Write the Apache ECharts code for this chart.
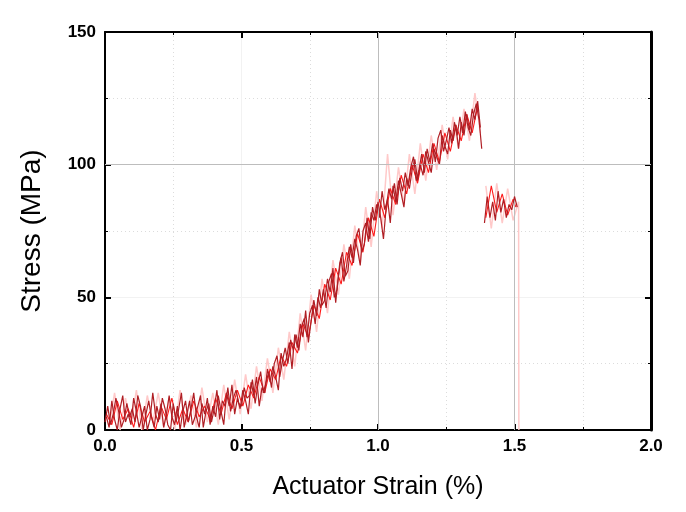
<!DOCTYPE html>
<html><head><meta charset="utf-8">
<script src="https://cdn.jsdelivr.net/npm/echarts@6/dist/echarts.min.js"></script>
<style>html,body{margin:0;padding:0;background:#fff}#c{width:686px;height:512px}</style>
</head><body><div id="c"></div>
<script>
// Dark red trace (part A)
var strainDark = [0.00,0.01,0.02,0.03,0.04,0.05,0.06,0.07,0.08,0.09,
0.10,0.11,0.12,0.13,0.14,0.15,0.16,0.17,0.18,0.19,
0.20,0.21,0.22,0.23,0.24,0.25,0.26,0.27,0.28,0.29,
0.30,0.31,0.32,0.33,0.34,0.35,0.36,0.37,0.38,0.39,
0.40,0.41,0.42,0.43,0.44,0.45,0.46,0.47,0.48,0.49,
0.50,0.51,0.52,0.53,0.54,0.55,0.56,0.57,0.58,0.59,
0.60,0.61,0.62,0.63,0.64,0.65,0.66,0.67,0.68,0.69,
0.70,0.71,0.72,0.73,0.74,0.75,0.76,0.77,0.78,0.79,
0.80,0.81,0.82,0.83,0.84,0.85,0.86,0.87,0.88,0.89,
0.90,0.91,0.92,0.93,0.94,0.95,0.96,0.97,0.98,0.99,
1.00,1.01,1.02,1.03,1.04,1.05,1.06,1.07,1.08,1.09,
1.10,1.11,1.12,1.13,1.14,1.15,1.16,1.17,1.18,1.19,
1.20,1.21,1.22,1.23,1.24,1.25,1.26,1.27,1.28,1.29,
1.30,1.31,1.32,1.33,1.34,1.35,1.36,1.37,1.38,1.385,
1.39,1.40,1.41,1.42,1.43,1.44,1.45,1.46,1.47,1.48,1.49,1.50,1.51];
var stressDark = [3,9,2,6,12,7,1,4,10,5,
8,3,13,9,0,6,11,5,1,9,
4,12,8,2,0,10,3,8,14,1,
6,11,2,5,9,13,1,7,10,3,
8,15,4,11,9,16,7,12,15,10,
9,16,12,13,19,10,17,22,14,18,
22,16,25,28,20,26,31,25,34,30,
36,30,39,42,35,44,47,40,50,46,
53,46,56,59,50,53,63,67,58,60,
70,63,73,76,67,70,80,72,84,79,
86,80,72,84,91,87,93,85,95,90,
97,92,99,103,94,98,104,97,106,101,
108,101,110,113,105,109,114,108,116,111,
118,112,120,114,111,119,123,117,106,null,
78,88,80,86,79,90,82,87,80,85,83,88,84];

// Dark red trace (part B, interleaved samples)
var strainDarkB = [0.005,0.015,0.025,0.035,0.045,0.055,0.065,0.075,0.085,0.095,
0.105,0.115,0.125,0.135,0.145,0.155,0.165,0.175,0.185,0.195,
0.205,0.215,0.225,0.235,0.245,0.255,0.265,0.275,0.285,0.295,
0.305,0.315,0.325,0.335,0.345,0.355,0.365,0.375,0.385,0.395,
0.405,0.415,0.425,0.435,0.445,0.455,0.465,0.475,0.485,0.495,
0.505,0.515,0.525,0.535,0.545,0.555,0.565,0.575,0.585,0.595,
0.605,0.615,0.625,0.635,0.645,0.655,0.665,0.675,0.685,0.695,
0.705,0.715,0.725,0.735,0.745,0.755,0.765,0.775,0.785,0.795,
0.805,0.815,0.825,0.835,0.845,0.855,0.865,0.875,0.885,0.895,
0.905,0.915,0.925,0.935,0.945,0.955,0.965,0.975,0.985,0.995,
1.005,1.015,1.025,1.035,1.045,1.055,1.065,1.075,1.085,1.095,
1.105,1.115,1.125,1.135,1.145,1.155,1.165,1.175,1.185,1.195,
1.205,1.215,1.225,1.235,1.245,1.255,1.265,1.275,1.285,1.295,
1.305,1.315,1.325,1.335,1.345,1.355,1.365,1.375];
var stressDarkB = [5,1,11,4,0,8,13,3,6,2,
12,7,1,5,9,0,4,14,6,3,
10,1,6,13,5,2,9,0,7,11,
3,8,14,5,1,10,6,12,2,9,
5,13,7,2,14,9,17,6,12,8,
15,11,6,18,13,20,9,16,14,23,
18,24,20,15,29,24,27,33,23,36,
31,40,35,45,33,41,49,43,53,47,
49,57,52,61,48,58,65,56,62,69,
65,72,68,62,75,78,71,82,79,85,
80,90,83,87,78,92,86,94,89,84,
95,91,98,102,94,100,96,105,101,97,
106,103,100,111,107,104,113,109,115,106,
116,111,119,113,121,117,124,114];

// Red trace
var strainRed = [0.005,0.025,0.045,0.065,0.085,0.105,0.125,0.145,0.165,0.185,
0.205,0.225,0.245,0.265,0.285,0.305,0.325,0.345,0.365,0.385,
0.405,0.425,0.445,0.465,0.485,0.505,0.525,0.545,0.565,0.585,
0.605,0.625,0.645,0.665,0.685,0.705,0.725,0.745,0.765,0.785,
0.805,0.825,0.845,0.865,0.885,0.905,0.925,0.945,0.965,0.985,
1.005,1.025,1.045,1.065,1.085,1.105,1.125,1.145,1.165,1.185,
1.205,1.225,1.245,1.265,1.285,1.305,1.325,1.345,1.365,1.38,
1.395,1.415,1.435,1.455,1.475,1.495,1.505];
var stressRed = [6,2,11,4,8,1,10,3,7,0,
9,4,12,2,8,3,11,5,9,4,
12,6,14,8,15,9,17,12,20,14,
23,19,28,24,33,29,40,35,47,42,
55,49,61,55,67,62,74,67,80,73,
87,80,91,85,96,89,100,93,104,97,
108,101,112,105,115,109,119,112,122,null,
80,92,82,89,81,87,84];

// Pink trace
var strainPink = [0.015,0.035,0.055,0.075,0.095,0.115,0.135,0.155,0.175,0.195,
0.215,0.235,0.255,0.275,0.295,0.315,0.335,0.355,0.375,0.395,
0.415,0.435,0.455,0.475,0.495,0.515,0.535,0.555,0.575,0.595,
0.615,0.635,0.655,0.675,0.695,0.715,0.735,0.755,0.775,0.795,
0.815,0.835,0.855,0.875,0.895,0.915,0.935,0.955,0.975,0.995,
1.015,1.035,1.055,1.075,1.095,1.115,1.135,1.155,1.175,1.195,
1.215,1.235,1.255,1.275,1.295,1.315,1.335,1.355,1.375,1.385,
1.395,1.415,1.435,1.455,1.475,1.495,1.515,1.516];
var stressPink = [1,14,0,12,2,15,0,13,3,14,
1,12,0,15,2,13,1,16,3,14,
2,17,4,19,6,21,8,24,11,27,
14,31,19,37,24,44,30,51,37,57,
44,64,51,70,57,77,63,84,69,90,
76,104,81,99,85,104,89,108,94,111,
98,115,102,118,106,121,109,127,112,null,
92,76,93,78,91,79,86,0];

// Axis ticks
var xTicks = [0, 0.5, 1.0, 1.5, 2.0];
var yTicks = [0, 50, 100, 150];

function pairs(xs, ys){ return xs.map(function(x,i){ return [x, ys[i] === null ? '-' : ys[i]]; }); }

var chart = echarts.init(document.getElementById('c'), null, {renderer:'canvas'});
var labelFont = {fontFamily:'Liberation Sans, Arial, sans-serif', fontWeight:'bold', fontSize:17, color:'#000'};

function xAx(pos, show){
  return {type:'value', position:pos, min:xTicks[0], max:xTicks[xTicks.length-1], interval:0.5,
    axisLine:{show:true, onZero:false, lineStyle:{color:'#000', width:2}},
    axisTick:{show:true, inside:true, length:6, lineStyle:{color:'#000', width:2}},
    minorTick:{show:true, splitNumber:2, length:3, lineStyle:{color:'#000', width:1}},
    axisLabel:Object.assign({show:show, margin:8, formatter:function(v){return v.toFixed(1);}}, labelFont),
    splitLine:{show:show, lineStyle:{color:'#f2f2f2', width:1}},
    minorSplitLine:{show:show, lineStyle:{color:'#dcdcdc', width:1, type:[1,3]}},
    name: show ? 'Actuator Strain (%)' : '', nameLocation:'middle', nameGap:45,
    nameTextStyle:{fontFamily:'Liberation Sans, Arial, sans-serif', fontSize:25, color:'#000'}};
}
function yAx(pos, show){
  return {type:'value', position:pos, min:yTicks[0], max:yTicks[yTicks.length-1], interval:50,
    axisLine:{show:true, onZero:false, lineStyle:{color:'#000', width: show?2:3}},
    axisTick:{show:true, inside:true, length:6, lineStyle:{color:'#000', width:2}},
    minorTick:{show:true, splitNumber:2, length:3, lineStyle:{color:'#000', width:1}},
    axisLabel:Object.assign({show:show, margin:9}, labelFont),
    splitLine:{show:show, lineStyle:{color:'#f2f2f2', width:1}},
    minorSplitLine:{show:show, lineStyle:{color:'#dcdcdc', width:1, type:[1,3]}},
    name: show ? 'Stress (MPa)' : '', nameLocation:'middle', nameGap:59,
    nameTextStyle:{fontFamily:'Liberation Sans, Arial, sans-serif', fontSize:28, color:'#000'}};
}

function lineSeries(data, color, z, w){
  return {type:'line', data:data, showSymbol:false, symbol:'none', connectNulls:false, animation:false, z:z,
    lineStyle:{color:color, width:w}};
}

chart.setOption({
  animation:false,
  grid:{left:105, right:35, top:32, bottom:82, containLabel:false, outerBoundsMode:'none'},
  xAxis:[xAx('bottom', true), xAx('top', false)],
  yAxis:[yAx('left', true), yAx('right', false)],
  series:[
    {type:'line', data:[], z:1, markLine:{silent:true, symbol:'none', label:{show:false},
      lineStyle:{color:'#bdbdbd', width:1, type:'solid'},
      data:[{xAxis:1.0},{xAxis:1.5},{yAxis:100}]}},
    lineSeries(pairs(strainPink, stressPink), '#ffc9c9', 2, 1.5),
    lineSeries(pairs(strainRed, stressRed), '#ff1a1a', 3, 1.1),
    lineSeries(pairs(strainDarkB, stressDarkB), '#b01e24', 4, 1.2),
    lineSeries(pairs(strainDark, stressDark), '#b01e24', 5, 1.2)
  ]
});
</script></body></html>
